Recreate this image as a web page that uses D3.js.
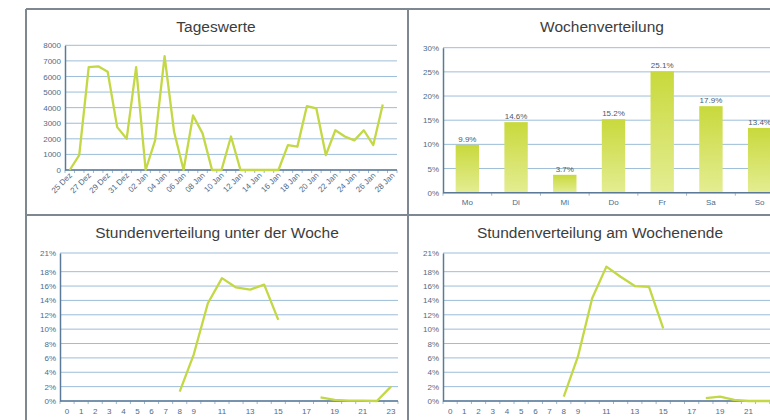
<!DOCTYPE html>
<html>
<head>
<meta charset="utf-8">
<script src="https://cdn.jsdelivr.net/npm/d3@7"></script>
<style>
  html, body { margin: 0; padding: 0; background: #fff; overflow: hidden; }
  svg { display: block; font-family: 'Liberation Sans', Arial, sans-serif; }
  .grid line { stroke: #9dbdd8; stroke-width: 1; }
  .tick-label { fill: #506b87; font-size: 8px; }
  .title { fill: #3d3d3d; font-size: 15.5px; text-anchor: middle; }
</style>
</head>
<body>
<div id="chart"></div>
<script>
// data
const days = [
  '25 Dez', '26 Dez', '27 Dez', '28 Dez', '29 Dez', '30 Dez', '31 Dez',
  '01 Jan', '02 Jan', '03 Jan', '04 Jan', '05 Jan', '06 Jan', '07 Jan',
  '08 Jan', '09 Jan', '10 Jan', '11 Jan', '12 Jan', '13 Jan', '14 Jan',
  '15 Jan', '16 Jan', '17 Jan', '18 Jan', '19 Jan', '20 Jan', '21 Jan',
  '22 Jan', '23 Jan', '24 Jan', '25 Jan', '26 Jan', '27 Jan', '28 Jan'
];
const dailyValues = [
  0, 950, 6600, 6650, 6300, 2750, 2000, 6600, 0, 1900,
  7300, 2450, 0, 3500, 2350, 0, 0, 2150, 0, 0,
  0, 0, 0, 1600, 1500, 4100, 3950, 950, 2550, 2150,
  1900, 2550, 1600, 4200, null
];
const dailyTicks = [0, 1000, 2000, 3000, 4000, 5000, 6000, 7000, 8000];

const weekdays = ['Mo', 'Di', 'Mi', 'Do', 'Fr', 'Sa', 'So'];
const weekShares = [9.9, 14.6, 3.7, 15.2, 25.1, 17.9, 13.4];
const weekTicks = [0, 5, 10, 15, 20, 25, 30];

const hours = ['0', '1', '2', '3', '4', '5', '6', '7', '8', '9', '10', '11',
  '12', '13', '14', '15', '16', '17', '18', '19', '20', '21', '22', '23'];
const hourLabels = ['0', '1', '2', '3', '4', '5', '6', '7', '8', '9',
  '11', '13', '15', '17', '19', '21', '23'];
const weekdayHours = [null, null, null, null, null, null, null, null,
  1.3, 6.5, 13.6, 17.1, 15.8, 15.5, 16.2, 11.3,
  null, null, 0.5, 0.15, 0.05, 0.05, 0, 2.0];
const weekendHours = [null, null, null, null, null, null, null, null,
  0.6, 6.2, 14.3, 18.7, 17.3, 16.0, 15.9, 10.1,
  null, null, 0.4, 0.6, 0.15, 0, 0, 0];
const hourTicks = [0, 2, 4, 6, 8, 10, 12, 14, 16, 18, 20.6];
const hourTickLabels = ['0%', '2%', '4%', '6%', '8%', '10%', '12%', '14%', '16%', '18%', '21%'];

const lineColor = '#c3d844';
const axisColor = '#5a7a98';

const svg = d3.select('#chart').append('svg')
  .attr('width', 770)
  .attr('height', 420);

const defs = svg.append('defs');
const grad = defs.append('linearGradient')
  .attr('id', 'barFill')
  .attr('x1', 0).attr('y1', 0).attr('x2', 0).attr('y2', 1);
grad.append('stop').attr('offset', '0%').attr('stop-color', '#c8d93c');
grad.append('stop').attr('offset', '100%').attr('stop-color', '#e4ed92');

// frame of the four panels
const frame = svg.append('g')
  .attr('fill', 'none')
  .attr('stroke', '#7d8891')
  .attr('stroke-width', 2);
frame.append('line').attr('x1', 26).attr('x2', 770).attr('y1', 9).attr('y2', 9);
frame.append('line').attr('x1', 26).attr('x2', 26).attr('y1', 9).attr('y2', 420);
frame.append('line').attr('x1', 408).attr('x2', 408).attr('y1', 9).attr('y2', 420);
frame.append('line').attr('x1', 26).attr('x2', 770).attr('y1', 215).attr('y2', 215);

function drawTitle(x, y, text) {
  svg.append('text').attr('class', 'title').attr('x', x).attr('y', y).text(text);
}

function drawGrid(g, yScale, ticks, x0, x1) {
  g.append('g').attr('class', 'grid')
    .selectAll('line')
    .data(ticks)
    .join('line')
    .attr('x1', x0)
    .attr('x2', x1)
    .attr('y1', (d) => yScale(d))
    .attr('y2', (d) => yScale(d));
}

function drawAxes(g, xScale, yScale, ticks, tickFormat, x0, x1, y0, y1) {
  const yAxis = g.append('g')
    .attr('transform', `translate(${x0},0)`)
    .call(d3.axisLeft(yScale).tickValues(ticks).tickFormat(tickFormat).tickSize(0).tickPadding(4));
  yAxis.select('.domain').attr('stroke', axisColor).attr('stroke-width', 1.5);
  yAxis.selectAll('text').attr('class', 'tick-label').attr('font-family', null).attr('font-size', null);

  // category boundary tick marks
  g.append('g')
    .selectAll('line')
    .data(xScale.domain().concat(['__end']))
    .join('line')
    .attr('x1', (d) => d === '__end' ? x1 : xScale(d))
    .attr('x2', (d) => d === '__end' ? x1 : xScale(d))
    .attr('y1', y0)
    .attr('y2', y0 + 3)
    .attr('stroke', '#9fb7cc')
    .attr('stroke-width', 1);

  g.append('line')
    .attr('x1', x0).attr('x2', x1)
    .attr('y1', y0).attr('y2', y0)
    .attr('stroke', axisColor)
    .attr('stroke-width', 1.5);
}

// 1. Tageswerte
{
  const x0 = 65, x1 = 397, y0 = 170, y1 = 45.3;
  const x = d3.scaleBand().domain(days).range([x0, x1]);
  const y = d3.scaleLinear().domain([0, 8000]).range([y0, y1]);
  const g = svg.append('g');
  drawTitle(216, 32, 'Tageswerte');
  drawGrid(g, y, dailyTicks, x0, x1);
  drawAxes(g, x, y, dailyTicks, (d) => d, x0, x1, y0, y1);

  const xAxis = g.append('g')
    .attr('transform', `translate(0,${y0 + 3})`)
    .call(d3.axisBottom(x).tickValues(days.filter((d, i) => i % 2 === 0)).tickSize(0).tickPadding(0));
  xAxis.select('.domain').remove();
  xAxis.selectAll('text')
    .attr('class', 'tick-label')
    .attr('font-family', null)
    .attr('font-size', '8.5px')
    .attr('text-anchor', 'end')
    .attr('dy', '0.5em')
    .attr('transform', 'rotate(-45)');

  const line = d3.line()
    .defined((d) => d !== null)
    .x((d, i) => x(days[i]) + x.bandwidth() / 2)
    .y((d) => y(d));
  g.append('path')
    .datum(dailyValues)
    .attr('fill', 'none')
    .attr('stroke', lineColor)
    .attr('stroke-width', 2.3)
    .attr('stroke-linejoin', 'round')
    .attr('d', line);
}

// 2. Wochenverteilung
{
  const x0 = 443, x1 = 784, y0 = 192.7, y1 = 47.7;
  const x = d3.scaleBand().domain(weekdays).range([x0, x1]).paddingInner(0.52).paddingOuter(0.26);
  const xc = d3.scaleBand().domain(weekdays).range([x0, x1]);
  const y = d3.scaleLinear().domain([0, 30]).range([y0, y1]);
  const g = svg.append('g');
  drawTitle(602, 32, 'Wochenverteilung');
  drawGrid(g, y, weekTicks, x0, x1);

  g.append('g')
    .selectAll('rect')
    .data(weekShares)
    .join('rect')
    .attr('x', (d, i) => x(weekdays[i]))
    .attr('y', (d) => y(d))
    .attr('width', x.bandwidth())
    .attr('height', (d) => y0 - y(d))
    .attr('fill', 'url(#barFill)');

  g.append('g')
    .selectAll('text')
    .data(weekShares)
    .join('text')
    .attr('x', (d, i) => x(weekdays[i]) + x.bandwidth() / 2)
    .attr('y', (d) => y(d) - 3)
    .attr('text-anchor', 'middle')
    .attr('fill', '#4a5a6a')
    .attr('font-size', '8px')
    .text((d) => d.toFixed(1) + '%');

  drawAxes(g, xc, y, weekTicks, (d) => d + '%', x0, x1, y0, y1);

  const xAxis = g.append('g')
    .attr('transform', `translate(0,${y0 + 4})`)
    .call(d3.axisBottom(xc).tickSize(0).tickPadding(3));
  xAxis.select('.domain').remove();
  xAxis.selectAll('text').attr('class', 'tick-label').attr('font-family', null).attr('font-size', null);
}

// 3./4. Stundenverteilung
function hourPanel(x0, x1, titleX, title, values) {
  const y0 = 401, y1 = 253;
  const x = d3.scaleBand().domain(hours).range([x0, x1]);
  const y = d3.scaleLinear().domain([0, 20.6]).range([y0, y1]);
  const g = svg.append('g');
  drawTitle(titleX, 238, title);
  drawGrid(g, y, hourTicks, x0, x1);
  drawAxes(g, x, y, hourTicks, (d, i) => hourTickLabels[i], x0, x1, y0, y1);

  const xAxis = g.append('g')
    .attr('transform', `translate(0,${y0 + 4})`)
    .call(d3.axisBottom(x).tickValues(hourLabels).tickSize(0).tickPadding(3));
  xAxis.select('.domain').remove();
  xAxis.selectAll('text').attr('class', 'tick-label').attr('font-family', null)
    .attr('font-size', '8.5px');

  const line = d3.line()
    .defined((d) => d !== null)
    .x((d, i) => x(hours[i]) + x.bandwidth() / 2)
    .y((d) => y(d));
  g.append('path')
    .datum(values)
    .attr('fill', 'none')
    .attr('stroke', lineColor)
    .attr('stroke-width', 2.3)
    .attr('stroke-linejoin', 'round')
    .attr('d', line);
}

hourPanel(60, 398, 217, 'Stundenverteilung unter der Woche', weekdayHours);
hourPanel(443, 784, 600, 'Stundenverteilung am Wochenende', weekendHours);
</script>
</body>
</html>
